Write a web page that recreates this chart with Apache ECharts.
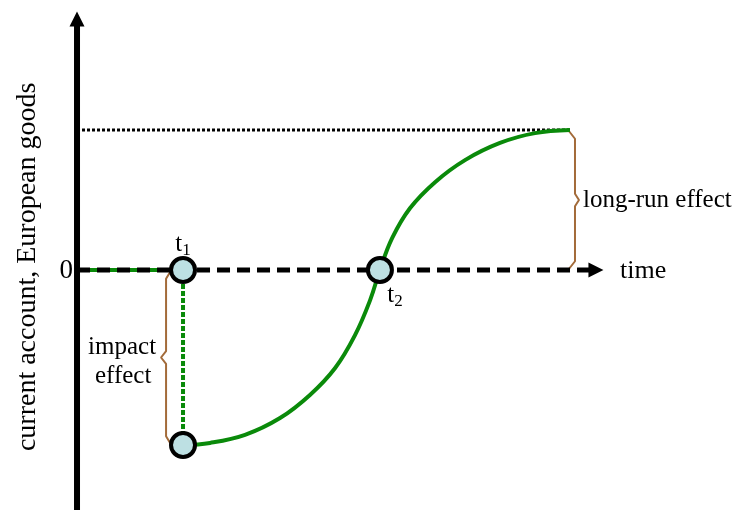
<!DOCTYPE html>
<html>
<head>
<meta charset="utf-8">
<script src="https://cdn.jsdelivr.net/npm/echarts@6/dist/echarts.min.js"></script>
<style>
html,body{margin:0;padding:0;background:#fff;}
#chart{width:734px;height:510px;}
</style>
</head>
<body>
<div id="chart"></div>
<script>
// ---- data (time units, current-account units) ----
const T1 = 4.0;            // depreciation date t1
const T2 = 11.43;          // current account back to zero, t2
const IMPACT = -5;         // impact effect value
const LONG_RUN = 4;        // long-run level
const T_END = 18.6;        // end of adjustment
const preTime = [0, 4.0];
const preValue = [0, 0];
const curveTime = [4.0, 5.02, 6.34, 7.66, 8.79, 9.74, 10.49, 11.06, 11.43, 11.89, 12.57, 13.51, 14.64, 15.96, 17.28, 18.6];
const curveValue = [-5.0, -4.94, -4.71, -4.23, -3.57, -2.8, -1.86, -0.86, 0, 0.91, 1.77, 2.51, 3.14, 3.63, 3.91, 4.0];
const axisTop = 7.17, axisBottom = -6.91, axisRight = 19.58;
const xMin = -2.906, xMax = 24.79, yMin = -6.857, yMax = 7.714;

const FONT = "'Liberation Serif','Times New Roman',serif";
const GREEN = '#0a8a0a';
const BROWN = '#a36b3a';
const FILL = '#bde0e3';

function zip(a, b) { return a.map((v, i) => [v, b[i]]); }

// curly brace from y0 to y1 at x, tip pointing by dx
function brace(x, y0, y1, dx, cx) {
  const mid = (y0 + y1) / 2;
  const s = y1 > y0 ? 1 : -1;
  return [
    [x + cx, y0], [x, y0 + s * 0.25],
    [x, mid - s * 0.18], [x + dx, mid], [x, mid + s * 0.18],
    [x, y1 - s * 0.25], [x + cx, y1]
  ];
}

const chart = echarts.init(document.getElementById('chart'));
const lbl = (x, y, text, extra) => Object.assign({
  value: [x, y],
  label: Object.assign({ show: true, formatter: text, fontFamily: FONT, fontSize: 25, color: '#000', position: 'inside' }, extra || {})
});

chart.setOption({
  animation: false,
  backgroundColor: '#fff',
  grid: { left: 0, right: 0, top: 0, bottom: 0 },
  xAxis: { type: 'value', min: xMin, max: xMax, show: false },
  yAxis: { type: 'value', min: yMin, max: yMax, show: false },
  series: [
    { // long-run level dotted
      type: 'line', symbol: 'none', silent: true, z: 2,
      data: [[0, LONG_RUN], [T_END, LONG_RUN]],
      lineStyle: { color: '#000', width: 3, type: [3, 2] }
    },
    { // impact brace
      type: 'line', symbol: 'none', silent: true, z: 2,
      data: brace(T1 - 0.64, 0, IMPACT, -0.19, 0.2),
      lineStyle: { color: BROWN, width: 2 }
    },
    { // long-run brace
      type: 'line', symbol: 'none', silent: true, z: 2,
      data: brace(T_END + 0.19, LONG_RUN, 0, 0.15, -0.26),
      lineStyle: { color: BROWN, width: 2 }
    },
    { // pre-period current account (green)
      type: 'line', symbol: 'none', silent: true, z: 2,
      data: zip(preTime, preValue),
      lineStyle: { color: GREEN, width: 4 }
    },
    { // time axis dashed
      type: 'line', symbol: 'none', silent: true, z: 3,
      data: [[0, 0], [axisRight, 0]],
      lineStyle: { color: '#000', width: 5, type: [13, 7] }
    },
    { // vertical axis
      type: 'line', symbol: 'none', silent: true, z: 3,
      data: [[0, axisBottom], [0, axisTop]],
      lineStyle: { color: '#000', width: 6 }
    },
    { // arrow heads
      type: 'scatter', silent: true, z: 3,
      data: [
        { value: [0, axisTop], symbolRotate: 0 },
        { value: [0, axisBottom], symbolRotate: 180 },
        { value: [axisRight, 0], symbolRotate: -90 }
      ],
      symbol: 'triangle', symbolSize: [15, 15],
      itemStyle: { color: '#000', opacity: 1 }
    },
    { // impact drop (green dotted)
      type: 'line', symbol: 'none', silent: true, z: 4,
      data: [[T1, 0], [T1, IMPACT]],
      lineStyle: { color: GREEN, width: 4, type: [5, 2] }
    },
    { // J-curve
      type: 'line', symbol: 'none', silent: true, z: 4, smooth: 0.4,
      data: zip(curveTime, curveValue),
      lineStyle: { color: GREEN, width: 4 }
    },
    { // circles
      type: 'scatter', silent: true, z: 10,
      data: [[T1, 0], [T1, IMPACT], [T2, 0]],
      symbol: 'circle', symbolSize: 24,
      itemStyle: { color: FILL, borderColor: '#000', borderWidth: 4, opacity: 1 }
    },
    { // text labels
      type: 'scatter', silent: true, symbolSize: 0, z: 11,
      itemStyle: { opacity: 1 },
      data: [
        lbl(-0.15, -0.02, '0', { align: 'right', verticalAlign: 'middle', fontSize: 27 }),
        lbl(20.49, -0.03, 'time', { align: 'left', verticalAlign: 'middle', fontSize: 26 }),
        lbl(19.09, 2.0, 'long-run effect', { align: 'left', verticalAlign: 'middle' }),
        lbl(1.70, -2.2, 'impact', { align: 'center', verticalAlign: 'middle' }),
        lbl(1.74, -3.03, 'effect', { align: 'center', verticalAlign: 'middle' }),
        lbl(4.0, 0.74, '{t|t}{s|1}', { align: 'center', verticalAlign: 'middle',
          rich: { t: { fontFamily: FONT, fontSize: 25, color: '#000' }, s: { fontFamily: FONT, fontSize: 17, color: '#000', padding: [12, 0, 0, 0] } } }),
        lbl(12.0, -0.74, '{t|t}{s|2}', { align: 'center', verticalAlign: 'middle',
          rich: { t: { fontFamily: FONT, fontSize: 25, color: '#000' }, s: { fontFamily: FONT, fontSize: 17, color: '#000', padding: [12, 0, 0, 0] } } }),
        lbl(-1.85, 0.09, 'current account, European goods', { align: 'center', verticalAlign: 'middle', rotate: 90, fontSize: 28 })
      ]
    }
  ]
});
</script>
</body>
</html>
